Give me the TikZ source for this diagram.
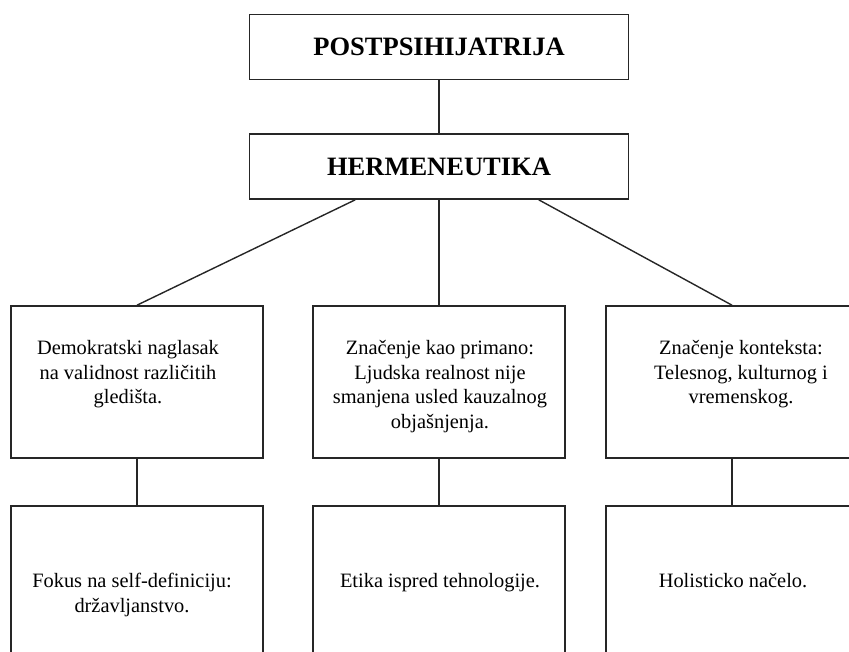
\documentclass[tikz,border=0pt]{standalone}
\usepackage{fontspec}
\setmainfont{Liberation Serif}
\usetikzlibrary{calc}
\begin{document}
\begin{tikzpicture}[x=1pt,y=-1pt,
bh/.style={draw=black!85, line width=1.6pt, minimum width=379pt, minimum height=65pt, inner sep=0pt, font=\fontsize{26.5}{30}\selectfont\bfseries},
bb/.style={draw=black!85, line width=1.6pt, minimum width=252pt, minimum height=152pt, inner sep=0pt},
bl/.style={draw=black!85, line width=1.6pt, minimum width=252pt, minimum height=220pt, inner sep=0pt},
tx/.style={anchor=north, align=center, inner sep=0pt, font=\fontsize{20.4}{24.5}\selectfont},
ln/.style={black!85, line width=1.4pt},
]
\clip (0,0) rectangle (849,652);
\node[bh] (post) at (439,47) {POSTPSIHIJATRIJA};
\node[bh] (herm) at (439,166.5) {HERMENEUTIKA};
\node[bb] (a1) at (137,382) {};
\node[bb] (b1) at (439,382) {};
\node[bb] (c1) at (732,382) {};
\node[bl] (a2) at (137,616) {};
\node[bl] (b2) at (439,616) {};
\node[bl] (c2) at (732,616) {};
\node[tx] (ta1) at ($(a1.north)+(-9,35)$) {Demokratski naglasak\\na validnost različitih\\gledišta.};
\node[tx] (tb1) at ($(b1.north)+(1,35)$) {Značenje kao primano:\\Ljudska realnost nije\\smanjena usled kauzalnog\\objašnjenja.};
\node[tx] (tc1) at ($(c1.north)+(9,35)$) {Značenje konteksta:\\Telesnog, kulturnog i\\vremenskog.};
\node[tx] (ta2) at ($(a2.north)+(-5,68)$) {Fokus na self-definiciju:\\državljanstvo.};
\node[tx] (tb2) at ($(b2.north)+(1,68)$) {Etika ispred tehnologije.};
\node[tx] (tc2) at ($(c2.north)+(1,68)$) {Holisticko načelo.};
\draw[ln] (post) -- (herm);
\draw[ln] ($(herm.south west)!0.28!(herm.south east)$) -- (a1.north);
\draw[ln] (herm) -- (b1);
\draw[ln] ($(herm.south west)!0.762!(herm.south east)$) -- (c1.north);
\draw[ln] (a1) -- (a2);
\draw[ln] (b1) -- (b2);
\draw[ln] (c1) -- (c2);
\end{tikzpicture}
\end{document}
